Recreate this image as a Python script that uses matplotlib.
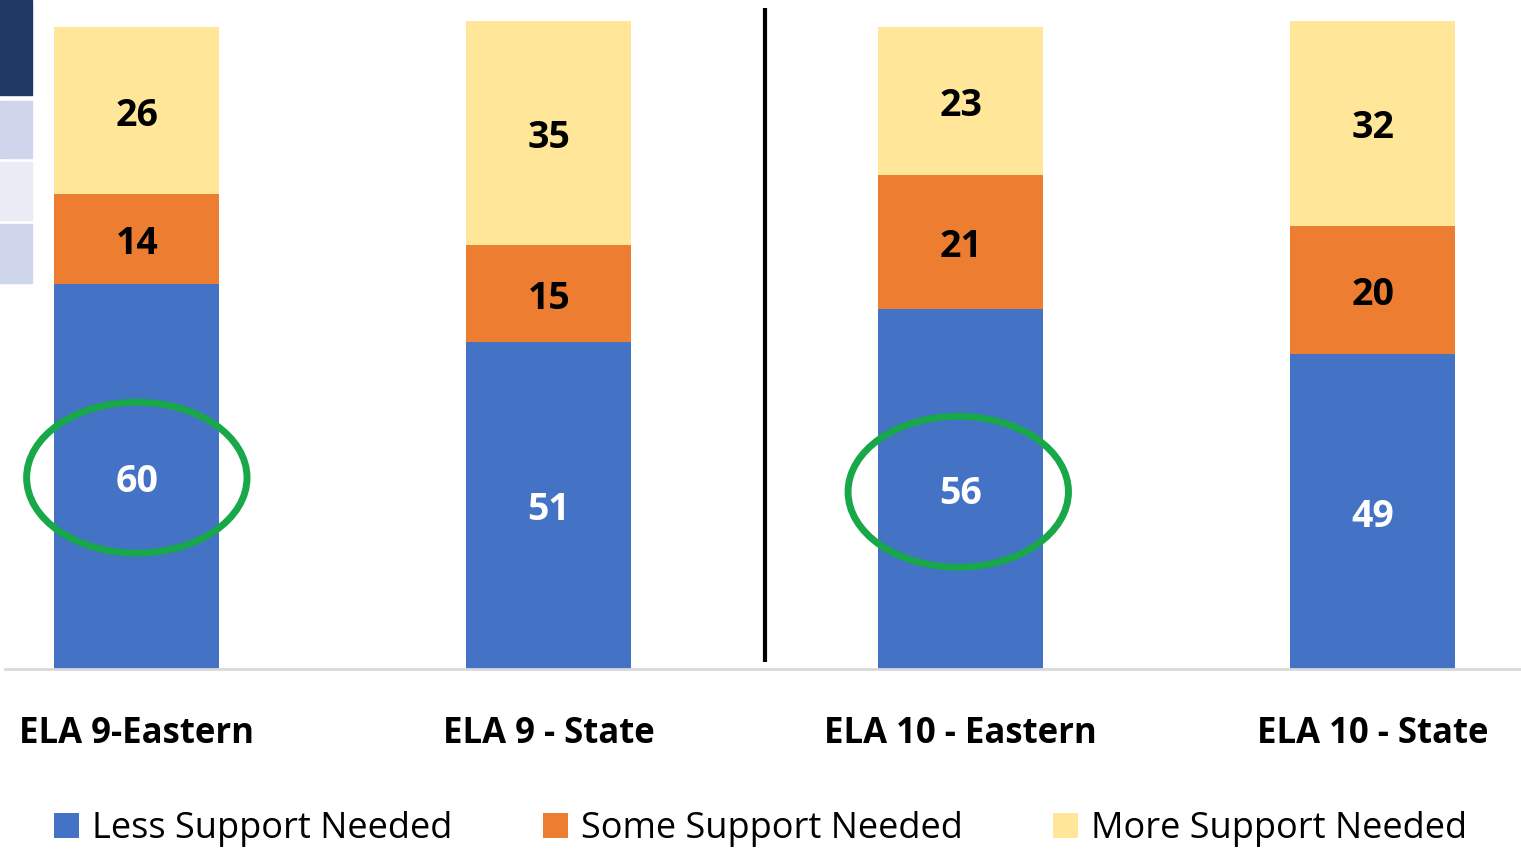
import numpy as np
import matplotlib.pyplot as plt
from matplotlib.patches import Ellipse, Rectangle

categories = ["ELA 9-Eastern", "ELA 9 - State", "ELA 10 - Eastern", "ELA 10 - State"]
less_support = [60, 51, 56, 49]
some_support = [14, 15, 21, 20]
more_support = [26, 35, 23, 32]
series_names = ["Less Support Needed", "Some Support Needed", "More Support Needed"]
colors = ["#4472C4", "#ED7D31", "#FFE699"]

plt.rcParams['font.family'] = ['Open Sans', 'DejaVu Sans']

fig = plt.figure(figsize=(15.21, 8.49), dpi=100)
ax = fig.add_axes([5 / 1521, 180 / 849, 1 - 5 / 1521, 669 / 849])

x = np.arange(len(categories))
less = np.array(less_support)
some = np.array(some_support)
more = np.array(more_support)

b1 = ax.bar(x, less, width=0.40, color=colors[0], label=series_names[0])
b2 = ax.bar(x, some, width=0.40, bottom=less, color=colors[1], label=series_names[1])
b3 = ax.bar(x, more, width=0.40, bottom=less + some, color=colors[2], label=series_names[2])

# value labels in the middle of each segment (nudged down a little)
off = 0.8
for i in range(len(x)):
    ax.text(x[i], less[i] / 2 - off, str(less[i]), ha='center', va='center',
            color='white', fontsize=27, fontweight='bold')
    ax.text(x[i], less[i] + some[i] / 2 - off, str(some[i]), ha='center', va='center',
            color='black', fontsize=27, fontweight='bold')
    ax.text(x[i], less[i] + some[i] + more[i] / 2 - off, str(more[i]), ha='center', va='center',
            color='black', fontsize=27, fontweight='bold')

ax.set_xlim(-0.32, 3.36)
ax.set_ylim(0, 104.2)

ax.set_xticks(x)
ax.set_xticklabels(categories, fontsize=25, fontweight='bold')
ax.tick_params(axis='x', length=0, pad=34)
ax.set_yticks([])
for s in ['top', 'right', 'left']:
    ax.spines[s].set_visible(False)
ax.spines['bottom'].set_color('#d9d9d9')
ax.spines['bottom'].set_linewidth(2)

# divider between grade 9 and grade 10
ax.plot([1.525, 1.525], [1.1, 103.0], color='black', linewidth=3, solid_capstyle='butt', clip_on=False)

# green circles around the Eastern "less support" values
for cx, cy in [(0, 29.8), (1.994, 27.6)]:
    ax.add_patch(Ellipse((cx, cy), 0.535, 23.5, fill=False, edgecolor='#18A84A',
                         linewidth=5, zorder=5))

# slide fragments on the left edge
fig.patches.append(Rectangle((0, 1 - 95 / 849), 32 / 1521, 95 / 849,
                             transform=fig.transFigure, color='#1F3864'))
fig.patches.append(Rectangle((0, 1 - 158 / 849), 32 / 1521, 57 / 849,
                             transform=fig.transFigure, color='#CFD5EA'))
fig.patches.append(Rectangle((0, 1 - 220 / 849), 32 / 1521, 58 / 849,
                             transform=fig.transFigure, color='#E9EBF5'))
fig.patches.append(Rectangle((0, 1 - 283 / 849), 32 / 1521, 59 / 849,
                             transform=fig.transFigure, color='#CFD5EA'))

fig.legend(handles=[b1, b2, b3], loc='center', bbox_to_anchor=(0.5, 1 - 829 / 849),
           ncol=3, frameon=False, fontsize=26, handlelength=0.7, handleheight=0.7,
           handletextpad=0.35, columnspacing=2.5)

fig.savefig('out.png', dpi=100)
